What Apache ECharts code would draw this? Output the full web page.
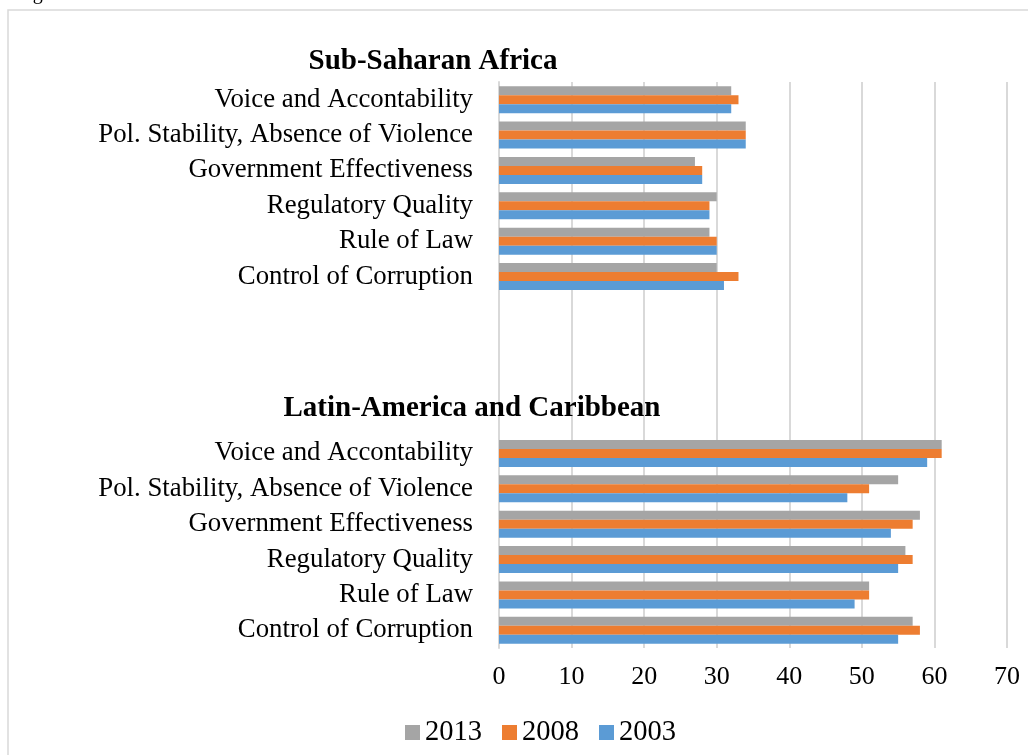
<!DOCTYPE html>
<html>
<head>
<meta charset="utf-8">
<script src="https://cdn.jsdelivr.net/npm/echarts@6/dist/echarts.min.js"></script>
<style>
html,body{margin:0;padding:0;background:#fff;}
#chart{width:1028px;height:755px;}
</style>
</head>
<body>
<div id="chart"></div>
<script>
const categories = [
  'Voice and Accontability',
  'Pol. Stability, Absence of Violence',
  'Government Effectiveness',
  'Regulatory Quality',
  'Rule of Law',
  'Control of Corruption',
  '', '', '', '',
  'Voice and Accontability',
  'Pol. Stability, Absence of Violence',
  'Government Effectiveness',
  'Regulatory Quality',
  'Rule of Law',
  'Control of Corruption'
];
const groupTitles = ['Sub-Saharan Africa', 'Latin-America and Caribbean'];
const seriesNames = ['2013', '2008', '2003'];
const values2013 = [32, 34, 27, 30, 29, 30, null, null, null, null, 61, 55, 58, 56, 51, 57];
const values2008 = [33, 34, 28, 29, 30, 33, null, null, null, null, 61, 51, 57, 57, 51, 58];
const values2003 = [32, 34, 28, 29, 30, 31, null, null, null, null, 59, 48, 54, 55, 49, 55];
const xTicks = [0, 10, 20, 30, 40, 50, 60, 70];
const colors = ['#A5A5A5', '#ED7D31', '#5B9BD5'];

const FONT = '"Liberation Serif", "Times New Roman", serif';
const chart = echarts.init(document.getElementById('chart'));
const seriesData = [values2013, values2008, values2003];

chart.setOption({
  animation: false,
  title: [
    { text: groupTitles[0], left: 428, top: 57, textAlign: 'center', textVerticalAlign: 'middle',
      textStyle: { fontFamily: FONT, fontSize: 29, fontWeight: 'bold', color: '#000' } },
    { text: groupTitles[1], left: 467, top: 404, textAlign: 'center', textVerticalAlign: 'middle',
      textStyle: { fontFamily: FONT, fontSize: 29, fontWeight: 'bold', color: '#000' } }
  ],
  graphic: [
    { type: 'rect', silent: true, z: -10, shape: { x: 8, y: 10, width: 1100, height: 800 },
      style: { fill: 'none', stroke: '#d9d9d9', lineWidth: 1.5 } },
    { type: 'text', left: 16, top: -16, silent: true,
      style: { text: 'Figure', font: '20px ' + FONT, fill: '#000' } }
  ],
  legend: {
    data: seriesNames,
    top: 713,
    left: 400,
    itemWidth: 15,
    itemHeight: 15,
    itemGap: 20,
    icon: 'rect',
    textStyle: { fontFamily: FONT, fontSize: 28.5, color: '#000', padding: [0, 0, 0, 0] }
  },
  grid: { left: 499, right: 21, top: 82, bottom: 107, containLabel: false },
  xAxis: {
    type: 'value', min: 0, max: 70, interval: 10,
    axisLine: { show: false }, axisTick: { show: false },
    splitLine: { show: true, lineStyle: { color: '#d9d9d9', width: 2 } },
    axisLabel: { fontFamily: FONT, fontSize: 26, color: '#000', margin: 16,
      formatter: v => xTicks.includes(v) ? String(v) : '' }
  },
  yAxis: {
    type: 'category', data: categories, inverse: true,
    axisLine: { show: true, lineStyle: { color: '#d9d9d9', width: 2 } },
    axisTick: { show: false },
    axisLabel: { fontFamily: FONT, fontSize: 26.8, color: '#000', margin: 26 }
  },
  series: seriesNames.map((n, i) => ({
    name: n, type: 'bar', data: seriesData[i],
    barGap: '0%', barCategoryGap: '24%',
    itemStyle: { color: colors[i] }
  }))
});
</script>
</body>
</html>
